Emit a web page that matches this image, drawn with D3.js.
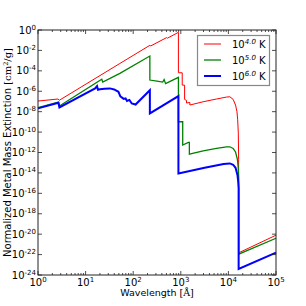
<!DOCTYPE html>
<html>
<head>
<meta charset="utf-8">
<style>
  body { margin: 0; background: #fff; }
  text { font-family: "DejaVu Sans", sans-serif; fill: #000; }
</style>
</head>
<body>
<div id="chart"></div>
<script src="https://d3js.org/d3.v7.min.js"></script>
<script>
  // Curves as [log10 wavelength, log10 extinction]
  const redCurve = [
    [0, -6.96], [0.42, -6.76], [0.45, -6.88], [1.72, -3.28], [2.35, -1.5], [2.37, -1.56],
    [2.70, -0.75], [2.72, -0.8], [2.95, -0.23], [2.95, -4.19], [3.03, -4.19], [3.03, -5.4],
    [3.08, -5.4], [3.08, -6.8], [3.12, -6.9], [3.12, -7.15], [3.19, -7.1], [3.19, -7.35],
    [3.47, -7.03], [3.75, -6.76], [3.96, -6.57], [4.03, -6.54], [4.10, -6.8], [4.15, -7.35],
    [4.18, -8.0], [4.195, -8.8], [4.208, -10.1], [4.215, -12.7], [4.215, -21.83], [5, -20.1]
  ];
  const greenCurve = [
    [0, -7.6], [0.43, -7.05], [0.45, -7.45], [1.34, -4.83], [1.36, -5.1], [1.72, -4.25],
    [2.35, -2.55], [2.35, -4.9], [2.5, -5.0], [2.62, -5.1], [2.65, -4.85], [2.68, -5.25],
    [2.95, -4.64], [2.95, -8.99], [3.04, -8.99], [3.04, -11.27], [3.16, -11.0], [3.18, -11.0],
    [3.18, -12.16], [3.47, -11.85], [3.75, -11.6], [3.96, -11.45], [4.03, -11.44], [4.10, -11.6],
    [4.15, -11.95], [4.19, -12.7], [4.205, -13.4], [4.215, -14.5], [4.215, -21.96], [5, -20.4]
  ];
  const blueCurve = [
    [0, -7.68], [0.43, -7.12], [0.45, -7.58], [1.20, -5.72], [1.24, -5.5], [1.26, -5.85],
    [1.30, -5.81], [1.40, -5.75], [1.51, -5.72], [1.60, -5.82], [1.69, -6.05], [1.73, -6.5],
    [1.80, -6.75], [1.84, -6.7], [1.87, -6.95], [1.92, -6.85], [1.97, -7.2], [2.05, -7.3],
    [2.35, -5.9], [2.35, -8.17], [2.95, -6.47], [2.95, -14.05], [3.5, -13.5], [3.9, -13.12],
    [4.03, -13.07], [4.10, -13.2], [4.15, -13.5], [4.19, -14.2], [4.205, -14.8], [4.215, -15.5],
    [4.215, -23.4], [5, -21.8]
  ];
  const seriesLabels = ['4.0', '5.0', '6.0'];
  const seriesColors = ['#ff0000', '#008000', '#0000ff'];
  const seriesWidths = [1, 1.3, 2];
  const xTickExp = [0, 1, 2, 3, 4, 5];
  const yTickExp = [0, -2, -4, -6, -8, -10, -12, -14, -16, -18, -20, -22, -24];

  const width = 306, height = 306;
  const margin = { top: 30, right: 30, bottom: 31, left: 38 };

  const svg = d3.select('#chart').append('svg')
    .attr('width', width)
    .attr('height', height);

  const x = d3.scaleLog().domain([1, 1e5]).range([margin.left, width - margin.right]);
  const y = d3.scaleLog().domain([1e-24, 1]).range([height - margin.bottom, margin.top]);

  const line = d3.line()
    .x(d => x(Math.pow(10, d[0])))
    .y(d => y(Math.pow(10, d[1])));

  [redCurve, greenCurve, blueCurve].forEach((c, i) => {
    svg.append('path')
      .datum(c)
      .attr('fill', 'none')
      .attr('stroke', seriesColors[i])
      .attr('stroke-width', seriesWidths[i])
      .attr('d', line);
  });

  // minor x ticks (2..9 per decade), inward on top and bottom
  const minor = [];
  for (let e = 0; e < 5; e++) for (let m = 2; m < 10; m++) minor.push(m * Math.pow(10, e));

  const x0 = x.range()[0], x1 = x.range()[1];
  const y0 = y.range()[1], y1 = y.range()[0];
  const tickG = svg.append('g').attr('stroke', '#222').attr('stroke-width', 0.8);
  minor.forEach(v => {
    tickG.append('line').attr('x1', x(v)).attr('x2', x(v)).attr('y1', y1).attr('y2', y1 - 2);
    tickG.append('line').attr('x1', x(v)).attr('x2', x(v)).attr('y1', y0).attr('y2', y0 + 2);
  });
  xTickExp.forEach(e => {
    const px = x(Math.pow(10, e));
    tickG.append('line').attr('x1', px).attr('x2', px).attr('y1', y1).attr('y2', y1 - 4);
    tickG.append('line').attr('x1', px).attr('x2', px).attr('y1', y0).attr('y2', y0 + 4);
  });
  yTickExp.forEach(e => {
    const py = y(Math.pow(10, e));
    tickG.append('line').attr('x1', x0).attr('x2', x0 + 4).attr('y1', py).attr('y2', py);
    tickG.append('line').attr('x1', x1).attr('x2', x1 - 4).attr('y1', py).attr('y2', py);
  });

  // frame
  svg.append('rect')
    .attr('x', x0).attr('y', y0)
    .attr('width', x1 - x0).attr('height', y1 - y0)
    .attr('fill', 'none').attr('stroke', '#222').attr('stroke-width', 1);

  // tick labels
  xTickExp.forEach(e => {
    const t = svg.append('text')
      .attr('x', x(Math.pow(10, e)))
      .attr('y', y1 + 11)
      .attr('text-anchor', 'middle')
      .attr('font-size', 10);
    t.append('tspan').text('10');
    t.append('tspan').attr('dy', -4).attr('font-size', 7).text(e);
  });
  yTickExp.forEach(e => {
    const t = svg.append('text')
      .attr('x', x0 - 2)
      .attr('y', y(Math.pow(10, e)) + 3.5)
      .attr('text-anchor', 'end')
      .attr('font-size', 10);
    t.append('tspan').text('10');
    t.append('tspan').attr('dy', -4).attr('font-size', 7).text(e);
  });

  // axis labels
  const xl = svg.append('text')
    .attr('x', (x0 + x1) / 2)
    .attr('y', 296)
    .attr('text-anchor', 'middle')
    .attr('font-size', 9.5);
  xl.append('tspan').text('Wavelength ');
  xl.append('tspan').attr('font-family', 'DejaVu Serif').text('[Å]');

  const yl = svg.append('text')
    .attr('transform', `translate(11, ${(y0 + y1) / 2}) rotate(-90)`)
    .attr('text-anchor', 'middle')
    .attr('font-size', 10);
  yl.append('tspan').text('Normalized Metal Mass Extinction ');
  yl.append('tspan').attr('font-family', 'DejaVu Serif').text('[cm');
  yl.append('tspan').attr('font-family', 'DejaVu Serif').attr('font-size', 6.5).attr('dy', -3.5).text('2');
  yl.append('tspan').attr('font-family', 'DejaVu Serif').attr('dy', 3.5).text('/g]');

  // legend
  const lg = svg.append('g');
  lg.append('rect')
    .attr('x', 197.5).attr('y', 35.5)
    .attr('width', 72).attr('height', 50)
    .attr('fill', '#fff').attr('stroke', '#888').attr('stroke-width', 1.2);
  seriesLabels.forEach((lab, i) => {
    const ly = 44 + i * 16;
    lg.append('line')
      .attr('x1', 204).attr('x2', 221)
      .attr('y1', ly).attr('y2', ly)
      .attr('stroke', seriesColors[i])
      .attr('stroke-width', seriesWidths[i]);
    const t = lg.append('text')
      .attr('x', 232)
      .attr('y', ly + 4)
      .attr('font-size', 10);
    t.append('tspan').text('10');
    t.append('tspan').attr('dy', -4).attr('font-size', 7).attr('font-style', 'italic').text(lab);
    t.append('tspan').attr('dy', 4).text(' K');
  });
</script>
</body>
</html>
